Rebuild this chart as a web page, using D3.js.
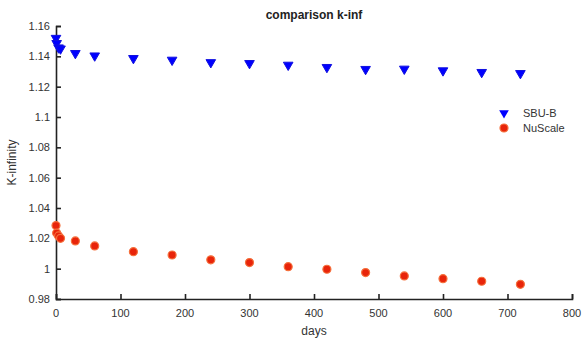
<!DOCTYPE html>
<html>
<head>
<meta charset="utf-8">
<script src="https://cdn.jsdelivr.net/npm/d3@7"></script>
<style>
  body { margin: 0; background: #fff; }
  text { font-family: "Liberation Sans", Arial, sans-serif; fill: #333; }
</style>
</head>
<body>
<div id="chart"></div>
<script>
// data
var days = [0, 1, 4, 7, 30, 60, 120, 180, 240, 300, 360, 420, 480, 540, 600, 660, 720];
var sbuB = [1.1520, 1.1486, 1.1457, 1.1450, 1.1420, 1.1404, 1.1387, 1.1376, 1.1360, 1.1354,
            1.1343, 1.1328, 1.1315, 1.1317, 1.1306, 1.1295, 1.1288];
var nuScale = [1.0284, 1.0235, 1.0216, 1.0200, 1.0183, 1.0150, 1.0112, 1.0090, 1.0058, 1.0040,
               1.0013, 0.9996, 0.9974, 0.9952, 0.9934, 0.9917, 0.9897];
var xTicks = [0, 100, 200, 300, 400, 500, 600, 700, 800];
var yTicks = [0.98, 1, 1.02, 1.04, 1.06, 1.08, 1.1, 1.12, 1.14, 1.16];

var width = 582, height = 344;
var margin = {top: 26, right: 10, bottom: 45, left: 56};

var svg = d3.select("#chart").append("svg")
    .attr("width", width)
    .attr("height", height);

var x = d3.scaleLinear().domain([0, 800]).range([margin.left, 572]);
var y = d3.scaleLinear().domain([0.98, 1.16]).range([height - margin.bottom, margin.top]);

// axes, ticks pointing inward like matlab
svg.append("g")
    .attr("transform", "translate(0," + y(0.98) + ")")
    .call(d3.axisTop(x).tickValues(xTicks).tickSize(5).tickSizeOuter(5).tickFormat(""));
svg.append("g")
    .attr("transform", "translate(" + x(0) + ",0)")
    .call(d3.axisRight(y).tickValues(yTicks).tickSize(5).tickSizeOuter(5).tickFormat(""));
svg.selectAll(".domain").attr("stroke", "#222").attr("stroke-width", 1.6);
svg.selectAll(".tick line").attr("stroke", "#222").attr("stroke-width", 1.6);

// tick labels
svg.selectAll(".xlab").data(xTicks).enter().append("text")
    .attr("x", function(d) { return x(d); })
    .attr("y", y(0.98) + 18)
    .attr("text-anchor", "middle")
    .style("font-size", "11px")
    .text(function(d) { return d; });
svg.selectAll(".ylab").data(yTicks).enter().append("text")
    .attr("x", x(0) - 6)
    .attr("y", function(d) { return y(d) + 4; })
    .attr("text-anchor", "end")
    .style("font-size", "11px")
    .text(function(d) { return +d.toFixed(2); });

// title and axis labels
svg.append("text")
    .attr("x", (x(0) + x(800)) / 2).attr("y", 19)
    .attr("text-anchor", "middle")
    .style("font-size", "12px").style("font-weight", "bold").style("fill", "#222")
    .text("comparison k-inf");
svg.append("text")
    .attr("x", (x(0) + x(800)) / 2).attr("y", 335)
    .attr("text-anchor", "middle")
    .style("font-size", "12px")
    .text("days");
svg.append("text")
    .attr("transform", "translate(16," + (y(1.07)) + ") rotate(-90)")
    .attr("text-anchor", "middle")
    .style("font-size", "12px")
    .text("K-infinity");

// markers
var tri = d3.symbol().type(d3.symbolTriangle).size(40);

svg.append("g").selectAll("circle")
    .data(days.map(function(d, i) { return {d: d, v: nuScale[i]}; }))
  .enter().append("circle")
    .attr("cx", function(p) { return x(p.d); })
    .attr("cy", function(p) { return y(p.v); })
    .attr("r", 4)
    .attr("fill", "#e8240a")
    .attr("stroke", "#f5703c")
    .attr("stroke-width", 1.2);

svg.append("g").selectAll("path")
    .data(days.map(function(d, i) { return {d: d, v: sbuB[i]}; }))
  .enter().append("path")
    .attr("d", tri)
    .attr("transform", function(p) { return "translate(" + x(p.d) + "," + y(p.v) + ") rotate(180)"; })
    .attr("fill", "#0000ff")
    .attr("stroke", "#1010e0")
    .attr("stroke-width", 1);

// legend
var legend = svg.append("g").attr("transform", "translate(504,113)");
legend.append("path")
    .attr("d", tri)
    .attr("transform", "rotate(180)")
    .attr("fill", "#0000ff");
legend.append("text").attr("x", 19).attr("y", 4).style("font-size", "11px").text("SBU-B");
legend.append("circle")
    .attr("cx", 0).attr("cy", 15).attr("r", 4)
    .attr("fill", "#e8240a").attr("stroke", "#f5703c").attr("stroke-width", 1.2);
legend.append("text").attr("x", 19).attr("y", 19).style("font-size", "11px").text("NuScale");
</script>
</body>
</html>
